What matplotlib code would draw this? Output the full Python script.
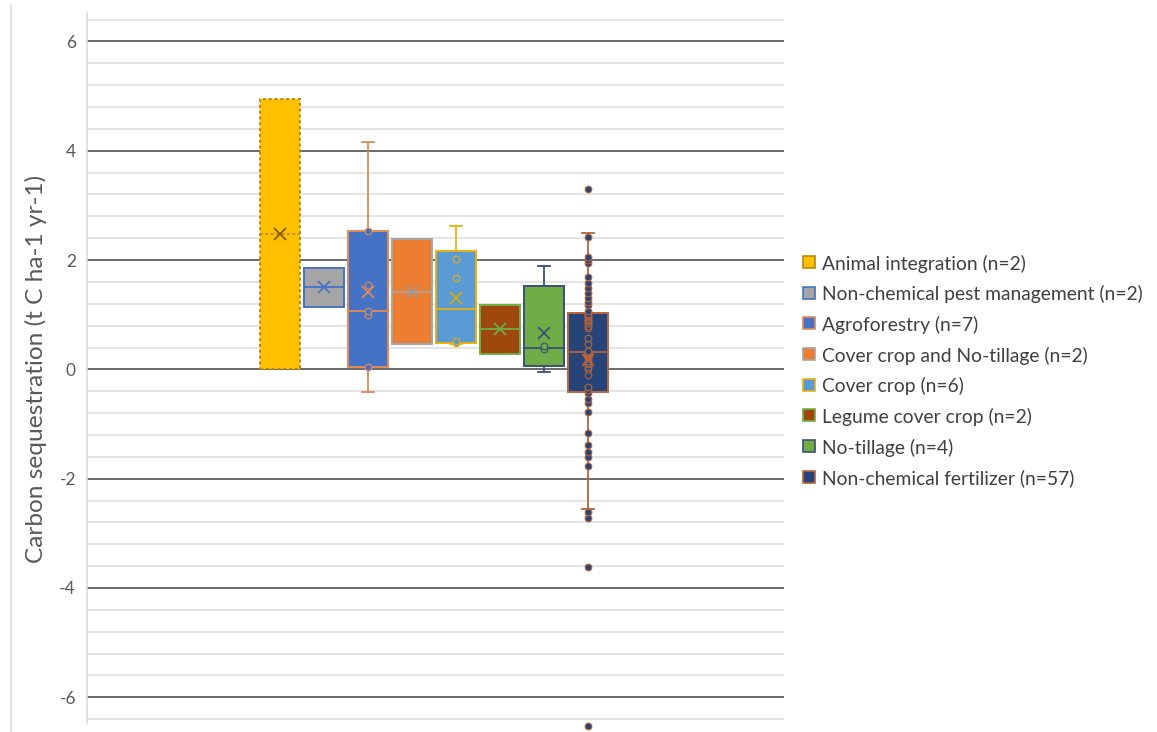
import numpy as np
import matplotlib
matplotlib.use("Agg")
import matplotlib.pyplot as plt
from matplotlib.patches import Rectangle
from matplotlib.lines import Line2D

# ---- data -------------------------------------------------------------
categories = [
    "Animal integration (n=2)",
    "Non-chemical pest management (n=2)",
    "Agroforestry (n=7)",
    "Cover crop and No-tillage (n=2)",
    "Cover crop (n=6)",
    "Legume cover crop (n=2)",
    "No-tillage (n=4)",
    "Non-chemical fertilizer (n=57)",
]

animal_integration = [0.0, 4.95]
pest_management = [1.15, 1.85]
agroforestry = [-0.41, 0.05, 0.99, 1.07, 1.54, 2.54, 4.16]
cover_crop_no_tillage = [0.46, 2.38]
cover_crop = [0.46, 0.48, 0.52, 1.68, 2.02, 2.62]
legume_cover_crop = [0.29, 1.18]
no_tillage = [-0.055, 0.38, 0.42, 1.90]
fertilizer = [
    -6.53, -3.62, -2.72, -2.61, -2.55, -1.77, -1.60, -1.52, -1.39, -1.17,
    -0.78, -0.62, -0.55, -0.44, -0.38,
    -0.33, -0.10, 0.00, 0.05, 0.10, 0.12, 0.16, 0.20, 0.22, 0.25, 0.28, 0.30, 0.31,
    0.32,
    0.33, 0.46, 0.58, 0.75, 0.80, 0.85, 0.85, 0.88, 0.90, 0.92, 0.95, 0.98, 1.00,
    1.02, 1.06,
    1.17, 1.24, 1.31, 1.40, 1.48, 1.58, 1.69, 1.95, 2.00, 2.06, 2.42, 2.50, 3.30,
]

series = [animal_integration, pest_management, agroforestry, cover_crop_no_tillage,
          cover_crop, legume_cover_crop, no_tillage, fertilizer]

y_ticks = [-6, -4, -2, 0, 2, 4, 6]
y_label = "Carbon sequestration (t C ha-1 yr-1)"

# ---- styling ----------------------------------------------------------
fills = ["#FFC000", "#A5A5A5", "#4472C4", "#ED7D31",
         "#5B9BD5", "#9E480E", "#70AD47", "#264478"]
edges = ["#B8860B", "#4472C4", "#E08A58", "#A5A5A5",
         "#E8B010", "#70AD47", "#3A5078", "#B5653C"]
mean_colors = ["#8B5A00", "#4472C4", "#E08A58", "#999999",
               "#D9A80E", "#70AD47", "#3A5078", "#B5653C"]

FONT = "Lato"
TXT = "#595959"

W, H = 1157, 732
fig = plt.figure(figsize=(W / 100, H / 100), dpi=100)
ax = fig.add_axes([87 / W, 1 - 723 / H, (784 - 87) / W, (723 - 13) / H])


def box_stats(vals):
    v = np.sort(np.asarray(vals, dtype=float))
    q1, med, q3 = np.percentile(v, [25, 50, 75], method="weibull")
    iqr = q3 - q1
    lo_f, hi_f = q1 - 1.5 * iqr, q3 + 1.5 * iqr
    inside = v[(v >= lo_f) & (v <= hi_f)]
    return dict(med=med, q1=q1, q3=q3, whislo=inside.min(), whishi=inside.max(),
                mean=v.mean(), fliers=np.array([])), v


for i, (vals, fc, ec, mc) in enumerate(zip(series, fills, edges, mean_colors)):
    st, v = box_stats(vals)
    ls = (0, (1.5, 1.5)) if i == 0 else "-"
    art = ax.bxp(
        [st], positions=[i], widths=0.91, capwidths=0.27, patch_artist=True,
        showmeans=True, showfliers=False,
        boxprops=dict(facecolor=fc, edgecolor=ec, linewidth=1.4, linestyle=ls),
        medianprops=dict(color=ec, linewidth=1.3, linestyle=ls),
        whiskerprops=dict(color=ec, linewidth=1.3),
        capprops=dict(color=ec, linewidth=1.3),
        meanprops=dict(marker="x", markeredgecolor=mc, markersize=8,
                       markeredgewidth=1.3, linestyle="none"),
    )
    for k in art["boxes"]:
        k.set_zorder(2)
    # no whisker when the box already reaches the extreme value
    if st["whislo"] >= st["q1"]:
        art["whiskers"][0].set_visible(False)
        art["caps"][0].set_visible(False)
    if st["whishi"] <= st["q3"]:
        art["whiskers"][1].set_visible(False)
        art["caps"][1].set_visible(False)
    for m in art["means"]:
        m.set_zorder(5)
    # inner points (between the whisker ends) and outliers
    pts = v[(v != st["whislo"]) & (v != st["whishi"])]
    ax.plot(np.full(len(pts), i), pts, linestyle="none", marker="o",
            markersize=4.8, markerfacecolor=fc, markeredgecolor=ec,
            markeredgewidth=0.8, zorder=4, clip_on=False)

ax.set_xlim(-4.386, 11.45)
ax.set_ylim(-6.47, 6.52)
ax.set_yticks(y_ticks)
ax.set_yticklabels([str(t) for t in y_ticks])
minor = [m for m in np.round(np.arange(-6.4, 6.41, 0.4), 2) if abs(m / 2 - round(m / 2)) > 1e-6]
ax.set_yticks(minor, minor=True)
ax.yaxis.grid(True, which="major", color="#5f5f5f", linewidth=1.3)
ax.yaxis.grid(True, which="minor", color="#e2e2e2", linewidth=1.3)
ax.set_axisbelow(True)
ax.tick_params(axis="y", which="both", length=0, pad=8, labelsize=12.5, labelcolor=TXT)
for lab in ax.get_yticklabels():
    lab.set_fontfamily(FONT)
ax.set_xticks([])
for s in ("top", "right", "bottom"):
    ax.spines[s].set_visible(False)
ax.spines["left"].set_color("#d9d9d9")
ax.spines["left"].set_linewidth(1.2)

fig.text(36 / W, 1 - 369 / H, y_label, rotation=90, ha="center", va="center",
         fontsize=17.6, color=TXT, family=FONT)

# chart border on the left edge
fig.add_artist(Line2D([11 / W, 11 / W], [0, 1 - 5 / H], color="#dcdcdc", linewidth=1.2))

# legend
row_y = 262
for i, (name, fc, ec) in enumerate(zip(categories, fills, edges)):
    yc = row_y + i * 30.7
    fig.add_artist(Rectangle((803 / W, 1 - (yc + 6) / H), 12 / W, 12 / H,
                             facecolor=fc, edgecolor=ec, linewidth=1.2,
                             transform=fig.transFigure))
    fig.text(822 / W, 1 - yc / H, name, ha="left", va="center_baseline",
             fontsize=13.9, color="#404040", family=FONT)

fig.savefig("out.png", dpi=100)
